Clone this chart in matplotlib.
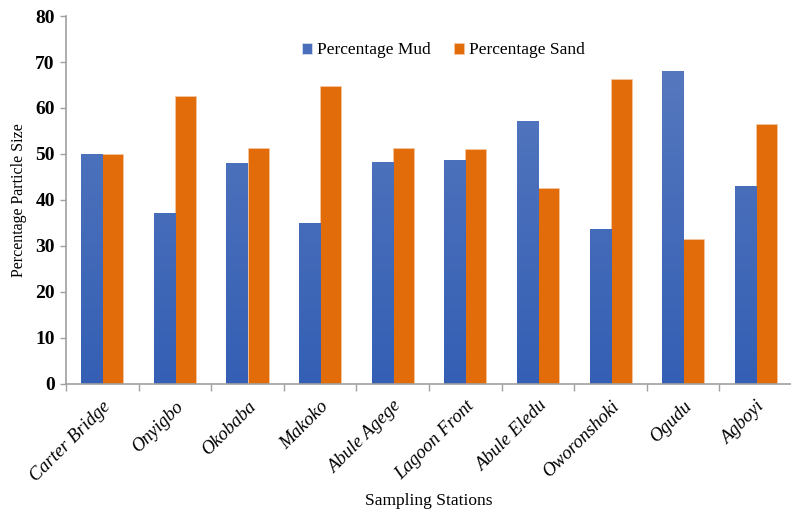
import numpy as np
import matplotlib
matplotlib.use("Agg")
import matplotlib.pyplot as plt
from matplotlib.colors import LinearSegmentedColormap

stations = ["Carter Bridge", "Onyigbo", "Okobaba", "Makoko", "Abule Agege",
            "Lagoon Front", "Abule Eledu", "Oworonshoki", "Ogudu", "Agboyi"]
mud = [50.0, 37.2, 48.1, 35.0, 48.2, 48.8, 57.2, 33.6, 68.1, 43.0]
sand = [50.0, 62.7, 51.4, 64.8, 51.4, 51.0, 42.7, 66.4, 31.5, 56.5]
yticks = [0, 10, 20, 30, 40, 50, 60, 70, 80]

plt.rcParams['font.family'] = ['Liberation Serif', 'DejaVu Serif']

fig = plt.figure(figsize=(7.91, 5.13), dpi=100)
ax = fig.add_axes([0.0834, 0.2515, 0.918, 0.7173])

x = np.arange(len(stations))
w = 0.29
blue = "#4A6EBB"
orange = "#E36C0A"
bars_m = ax.bar(x - w/2, mud, w, color=blue, label="Percentage Mud",
                edgecolor="#dde4f2", linewidth=0.5, zorder=2)
bars_s = ax.bar(x + w/2, sand, w, color=orange, label="Percentage Sand",
                edgecolor="#f5c9a6", linewidth=0.5, zorder=2)

# gradient on blue bars
cmap = LinearSegmentedColormap.from_list("bg", ["#345FB4", "#5B7CC0"])
grad = np.linspace(0, 1, 256).reshape(-1, 1)
for b in bars_m:
    x0 = b.get_x()
    im = ax.imshow(grad, cmap=cmap, origin='lower', aspect='auto',
                   extent=[x0, x0 + b.get_width(), 0, 80], zorder=2.1)
    im.set_clip_path(b)

ax.set_xlim(-0.5, len(stations) - 0.5)
ax.set_ylim(0, 80)
ax.set_yticks(yticks)
ax.set_yticklabels([str(v) for v in yticks], fontsize=14, fontweight='bold')
ax.set_xticks(x)
ax.set_xticklabels(stations, rotation=45, ha='right', rotation_mode='anchor',
                   fontsize=13.5, style='italic')
ax.tick_params(axis='x', length=0, pad=10)
ax.set_xticks(np.arange(len(stations) + 1) - 0.5, minor=True)
ax.tick_params(axis='x', which='minor', length=5, color='#a0a0a0', width=1)
ax.tick_params(axis='y', length=4, color='#a0a0a0', width=1, pad=4)

for s in ['top', 'right']:
    ax.spines[s].set_visible(False)
for s in ['left', 'bottom']:
    ax.spines[s].set_color('#a0a0a0')
    ax.spines[s].set_linewidth(1.2)

ax.set_ylabel("Percentage Particle Size", fontsize=11.5, labelpad=6)
ax.set_xlabel("Sampling Stations", fontsize=12.5, labelpad=6)

leg = ax.legend(loc='center', bbox_to_anchor=(0.52, 0.907), ncol=2,
                frameon=False, fontsize=12.5, handlelength=0.6,
                handleheight=0.6, columnspacing=1.3, handletextpad=0.3)

fig.savefig("out.png", dpi=100)
